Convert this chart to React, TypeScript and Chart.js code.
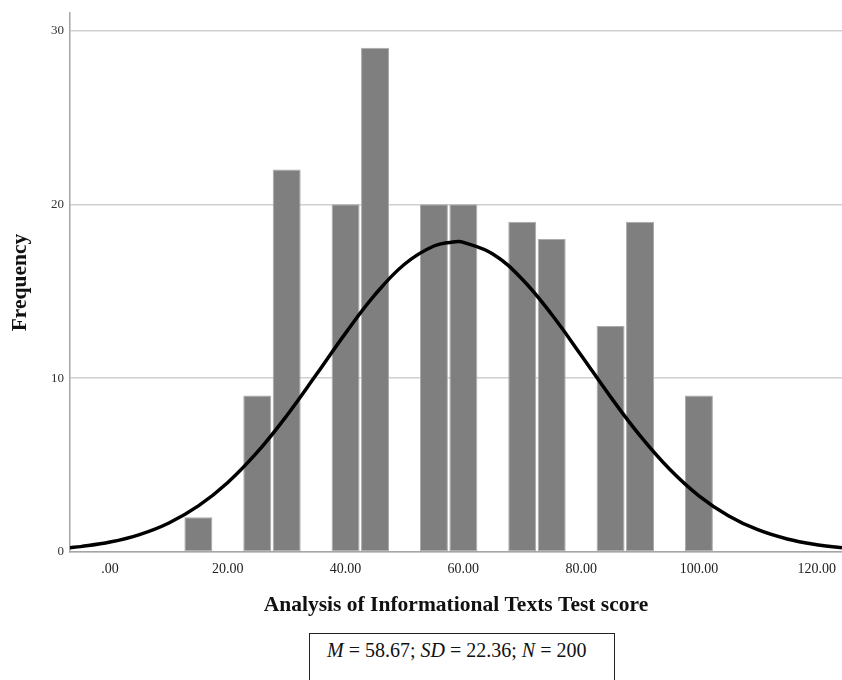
import React, { useEffect, useRef } from "react";
import { Chart, registerables } from "chart.js";

Chart.register(...registerables);

// Histogram bins (bin centres, width 5) and frequencies
const binCenters = [15, 25, 30, 40, 45, 55, 60, 70, 75, 85, 90, 100];
const frequencies = [2, 9, 22, 20, 29, 20, 20, 19, 18, 13, 19, 9];

// Normal curve points
const curveX = [-6.8, -5, 0, 5, 10, 15, 20, 25, 30, 35, 40, 45, 50, 55, 58.67, 60, 65, 70, 75, 80, 85, 90, 95, 100, 105, 110, 115, 120, 124.3];
const curveY = [0.25, 0.31, 0.57, 1.0, 1.67, 2.65, 4.0, 5.74, 7.84, 10.19, 12.59, 14.8, 16.55, 17.6, 17.84, 17.81, 17.14, 15.69, 13.66, 11.32, 8.92, 6.69, 4.77, 3.23, 2.09, 1.28, 0.75, 0.42, 0.24];

const xTicks = [0, 20, 40, 60, 80, 100, 120];
const yTicks = [0, 10, 20, 30];

const xTitle = "Analysis of Informational Texts Test score";
const yTitle = "Frequency";

const SERIF = "'Liberation Serif', 'Times New Roman', Times, serif";

export default function App() {
  const ref = useRef<HTMLCanvasElement | null>(null);

  useEffect(() => {
    if (!ref.current) return;
    Chart.defaults.font.family = SERIF;
    const chart = new Chart(ref.current, {
      type: "bar",
      data: {
        datasets: [
          {
            type: "line",
            data: curveX.map((x, i) => ({ x, y: curveY[i] })),
            borderColor: "#000000",
            borderWidth: 3.5,
            pointRadius: 0,
            tension: 0.4,
            fill: false,
            order: 0,
          } as any,
          {
            type: "bar",
            data: binCenters.map((x, i) => ({ x, y: frequencies[i] })),
            backgroundColor: "#7f7f7f",
            borderColor: "#ababab",
            borderWidth: 1,
            borderSkipped: false,
            barPercentage: 1,
            categoryPercentage: 0.95,
            order: 1,
          } as any,
        ],
      },
      options: {
        animation: false,
        responsive: false,
        layout: { padding: { top: 13, left: 0, right: 0, bottom: 0 } },
        plugins: { legend: { display: false }, tooltip: { enabled: false } },
        scales: {
          x: {
            type: "linear",
            offset: false,
            min: -6.8,
            max: 124.3,
            afterBuildTicks: (s: any) => {
              s.ticks = xTicks.map((v) => ({ value: v }));
            },
            afterFit: (s: any) => {
              s.height = 73;
              s.paddingLeft = 0;
              s.paddingRight = 0;
            },
            grid: { display: false, drawTicks: false, offset: false },
            border: { display: true, color: "#a6a6a6", width: 1.5 },
            ticks: {
              padding: 9,
              color: "#222",
              font: { size: 14 },
              maxRotation: 0,
              autoSkip: false,
              callback: (v: any) => (Number(v) === 0 ? ".00" : Number(v).toFixed(2)),
            },
            title: {
              display: true,
              text: xTitle,
              color: "#111",
              font: { size: 21.5, weight: "bold" },
              padding: { top: 0, bottom: 7 },
            },
          },
          y: {
            type: "linear",
            min: 0,
            max: 31,
            afterBuildTicks: (s: any) => {
              s.ticks = yTicks.map((v) => ({ value: v }));
            },
            afterFit: (s: any) => {
              s.width = 70;
              s.paddingTop = 0;
              s.paddingBottom = 0;
            },
            grid: { display: true, drawTicks: false, color: "#d0d0d0", lineWidth: 1.5 },
            border: { display: true, color: "#a6a6a6", width: 1.5 },
            ticks: {
              padding: 6,
              color: "#333",
              font: { size: 13 },
              autoSkip: false,
            },
            title: {
              display: true,
              text: yTitle,
              color: "#111",
              font: { size: 21.5, weight: "bold" },
              padding: { top: 8, bottom: 0 },
            },
          },
        },
      },
    });
    return () => chart.destroy();
  }, []);

  return (
    <div
      style={{
        position: "absolute",
        left: 0,
        top: 0,
        width: 842,
        height: 680,
        overflow: "hidden",
        background: "#ffffff",
      }}
    >
      <canvas ref={ref} width={842} height={625} style={{ display: "block" }} />
      <div
        style={{
          position: "absolute",
          left: 309,
          top: 633,
          width: 306,
          height: 70,
          boxSizing: "border-box",
          border: "1.5px solid #222",
          padding: "5px 0 0 17px",
          fontFamily: SERIF,
          fontSize: 20,
          color: "#111",
          whiteSpace: "nowrap",
        }}
      >
        <i>M</i> = 58.67; <i>SD</i> = 22.36; <i>N</i> = 200
      </div>
    </div>
  );
}
